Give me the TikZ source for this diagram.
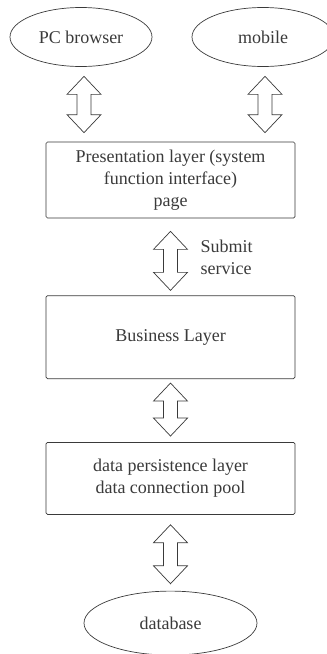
\documentclass[tikz,border=0pt]{standalone}
\usepackage{fontspec}
\setmainfont{Liberation Serif}
\usetikzlibrary{positioning, shapes.geometric, calc}
\definecolor{ink}{HTML}{3A3A3A}

% hollow two-way arrow, x taken from the upper end
\newcommand{\hollowarrow}[2]{%
  \draw[biarrow] let \p1=#1, \p2=#2 in
    (\x1,\y1) -- (\x1+17pt,\y1-18pt) -- (\x1+7pt,\y1-18pt)
    -- (\x1+7pt,\y2+18pt) -- (\x1+17pt,\y2+18pt) -- (\x1,\y2)
    -- (\x1-17pt,\y2+18pt) -- (\x1-7pt,\y2+18pt)
    -- (\x1-7pt,\y1-18pt) -- (\x1-17pt,\y1-18pt) -- cycle;}

\begin{document}
\begin{tikzpicture}[
    x=1pt, y=-1pt, font=\fontsize{18}{22}\selectfont,
    layer/.style={draw=ink, rounded corners=1.5pt, line width=0.7pt,
        minimum width=249pt, align=center, text=ink},
    client/.style={draw=ink, ellipse, line width=0.7pt, inner sep=1pt,
        minimum width=142pt, minimum height=59pt, text=ink},
    biarrow/.style={draw=ink, line width=0.7pt, fill=white}
  ]
  \useasboundingbox (0,0) rectangle (327,654);

  \node[client] (pc) at (81,37) {PC browser};
  \node[client] (mob) at (263,37) {mobile};

  \node[layer, minimum height=76pt] (pres) at (170.5,180)
    {Presentation layer (system\\ function interface)\\ page};
  \node[layer, minimum height=83pt, below=77pt of pres] (biz) {Business Layer};
  \node[layer, minimum height=72pt, below=63pt of biz] (dal)
    {data persistence layer\\ data connection pool};
  \node[client, minimum width=173pt, minimum height=64pt, below=76pt of dal]
    (db) {database};

  \node[anchor=west, align=left, text=ink] (submit) at (197,257)
    {Submit\\ service};

  \hollowarrow{($(pc.south)+(3,9.5)$)}{($(pres.north)+(0,-9)$)}
  \hollowarrow{($(mob.south)+(2,9.5)$)}{($(pres.north)+(0,-9)$)}
  \hollowarrow{($(pres.south)+(0,13)$)}{($(biz.north)+(0,-5)$)}
  \hollowarrow{($(biz.south)+(0,4)$)}{($(dal.north)+(0,-6)$)}
  \hollowarrow{($(dal.south)+(0,10)$)}{($(db.north)+(0,-7)$)}
\end{tikzpicture}
\end{document}
